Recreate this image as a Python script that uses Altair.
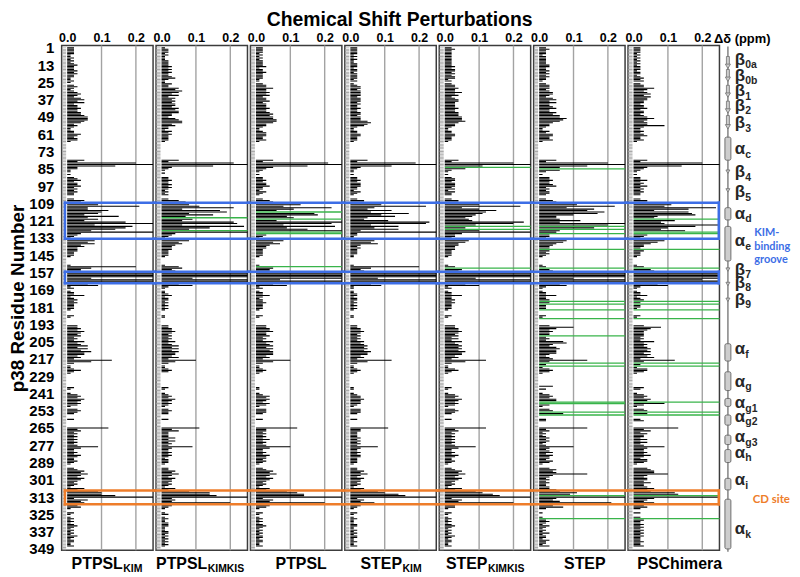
import altair as alt
import pandas as pd

# ---------------- data ----------------
RES_TICKS = list(range(1, 350, 12))
CSP_TICKS = [0.0, 0.1, 0.2]
CSP_GRID = [0.1, 0.2]

PANEL_NAME = ["PTPSL", "PTPSL", "PTPSL", "STEP", "STEP", "STEP", "PSChimera"]
PANEL_SUB = ["KIM", "KIMKIS", "", "KIM", "KIMKIS", "", ""]

# one character per residue (1..350): '.' = no value, digits = hundredths of ppm,
# letters a..z = 0.10..0.35 ppm
CSP_PTPSL_KIM = """
2222211212 1232223232 21121.2321 2343245352 3343344566 6542321122 432331.... ........53 kze3311.1. 2342334232
322..25499 l66ca95f69 5hz8jhe7z4 3212868453 332221.... .1k744zzzz 7zzk6912.1 2251232322 221...21.. ...3343543
4232534636 4755342d72 .112421... ......21.. 1343543431 .3432...2. ....c34232 3232323942 2324322321 ..23546435
432321539a aez2645434 1..21.1212 1232121213 2122112...
"""
CSP_PTPSL_KIMKIS = """
1222121112 2223232322 3421132254 6535243434 4354553324 5663422132 322221.... ........52 lzf321.1.. 2232232321
212..257e8 bl6hj8f7.9 6lm6oe8.z4 3212856433 322221.... .15634zzzz 9zzk5921.1 1231221212 121...11.. ...2233432
3232423535 3544352a42 .11232.... ......21.. 1232432321 .2322...2. ....b35222 2424232932 2323212221 ..22435324
332321428e egz343k432 1..12.1211 2221112212 1212121...
"""
CSP_PTPSL = """
2222121212 2223122322 2211.23353 3434233423 3343345455 6653321123 332231.... ........52 lzf5321.1. 2232334221
321..245dd 8mb6.hi9b. 6zm8n9fz.. 3212857433 222221.... .1.544zzzz z7zz5912.1 2242122322 221...21.. ...3344533
4232534535 4555342a52 .112321... ......11.. 1243432431 .3332...2. ....c33232 3242323a42 2324332321 ..23546435
432321439c eez254k543 1..21.1212 1232121212 2122112...
"""
CSP_STEP_KIM = """
2222212121 1222122122 2212.12332 3333233323 2232233233 3565421122 332221.... ........52 jzc3211.1. 2232333221
321..24489 m75c6h9d54 bnm6e7e3z2 2112768323 222211.... .1k634zzzz 8zzz6911.1 1221221212 121...11.. ...2233432
3232434545 4655342c52 .112321... ......11.. 1233433321 .3332...2. ....b33222 2323232832 2323322221 ..22435324
332321438a egz2437432 1..21.1211 1221121212 2112112...
"""
CSP_STEP_KIMKIS = """
2322222222 2223233232 3312.23343 3534234433 3343344455 5643321122 332221.... ........42 kzb.621.1. 2332333231
322..2446a m5afcb9867 8nk9.6.az5 3322764433 322221.... .13.54zzzz 9zzk6a12.1 2252232322 221...21.. ...3344543
4242534545 4655342c62 .113421... ......21.. 1343543431 .3432...2. ....c34232 3232323942 2324322321 ..23546435
432321539b egz254k433 1..21.1212 1232121213 2122112...
"""
CSP_STEP = """
2322212222 2233223232 3221.23332 3443245353 3453354668 7643321132 443341.... ........52 kze6.62.1. 3343345232
332..245bb m8gejha556 c6zk.g.65. 3322875433 .32321.... .12.34zzzz azzz6821.1 225223.3.2 22....21.. ...3a53433
.232784356 5553234e3. 2.13431... .....4.2.. 134355..31 .34.7...22 ....e23121 2323212a32 3424332431 ..3545e432
323223356b 9.z546l647 2..1..1.23 2132121312 2132213...
"""
CSP_PSCHIMERA = """
2222121212 1212221221 2323.23364 3453544332 3342332346 4344932232 342231.... ........42 kze4321.1. 2242324232
322..244cb 9og6ghi76. c89zia8f.. 4322975332 .32221.... .13.56zzzz zkzz7a21.1 224123.2.2 21....21.. ...3854333
3232634345 4535462c3. 2.14431... ......32.. 134354.931 .34.4...23 ....d35243 3242423943 3435324431 ..4566a434
435334645c d.z6436534 2..2..2.32 2323232323 2223223...
"""
CSP = [CSP_PTPSL_KIM, CSP_PTPSL_KIMKIS, CSP_PTPSL, CSP_STEP_KIM,
       CSP_STEP_KIMKIS, CSP_STEP, CSP_PSCHIMERA]

# residues drawn as green lines (signal lost) per panel
GREEN_PTPSL_KIM = []
GREEN_PTPSL_KIMKIS = [119, 128]
GREEN_PTPSL = [115, 120, 129, 130, 153]
GREEN_STEP_KIM = []
GREEN_STEP_KIMKIS = [84, 125, 127, 154]
GREEN_STEP = [85, 125, 127, 130, 141, 154, 177, 179, 183, 189, 201, 220, 222,
              247, 248, 254, 256, 312, 328]
GREEN_PSCHIMERA = [120, 129, 130, 141, 154, 177, 179, 183, 189, 220, 222,
                   247, 254, 256, 312, 328]
GREEN = [GREEN_PTPSL_KIM, GREEN_PTPSL_KIMKIS, GREEN_PTPSL, GREEN_STEP_KIM,
         GREEN_STEP_KIMKIS, GREEN_STEP, GREEN_PSCHIMERA]

# highlighted regions (residue ranges)
BOX_START = [108.5, 156.5, 308.5]
BOX_END = [133.5, 164.5, 318.0]
BOX_KIND = ["KIM", "KIM", "CD"]

# secondary structure of p38
BACKBONE = [0, 351]
HELIX_START = [63, 112, 125, 206.5, 226, 244.5, 256, 270, 280, 300, 314.5]
HELIX_END = [79, 120.5, 149, 218.5, 239, 250, 263, 276.5, 289, 308, 349]
STRAND_START = [7, 16, 27, 38, 48]
STRAND_END = [15, 24, 35, 46, 57]
SHORT_STRAND = [87, 100, 155, 165, 176]
SS_GREEK = ["β", "β", "β", "β", "β", "α", "β", "β", "α", "α", "β", "β", "β",
            "α", "α", "α", "α", "α", "α", "α", "α"]
SS_SUB = ["0a", "0b", "1", "2", "3", "c", "4", "5", "d", "e", "7", "8", "9",
          "f", "g", "g1", "g2", "g3", "h", "i", "k"]
SS_LABEL_RES = [10, 21, 32, 42, 54, 72, 88, 102, 117, 136, 156, 165, 176.6,
                211, 233.5, 248.6, 258, 272, 282.8, 302, 336]

TITLE = "Chemical Shift Perturbations"
Y_TITLE = "p38 Residue Number"
UNIT_LABEL = "Δδ (ppm)"
GROOVE_LABEL = "KIM-\nbinding\ngroove"
CD_LABEL = "CD site"

# ---------------- style ----------------
FONT = "Liberation Sans"
FONT2 = "Lato"
W, H = 92, 508
BLUE = "#3d6ee6"
ORANGE = "#ee7d2a"
GREEN_C = "#38b44a"
STRIPE = "#a9a9a9"
GRID_C = "#a3a3a3"
SS_FILL = "#cdcdcd"
SS_STROKE = "#6f6f6f"

XS = alt.Scale(domain=[-0.016, 0.25], nice=False, zero=False)
YS = alt.Scale(domain=[-0.6, 350], nice=False, zero=False, reverse=True)
BOXSC = alt.Scale(domain=["KIM", "CD"], range=[BLUE, ORANGE])

XAX = alt.Axis(orient="top", values=CSP_TICKS, format=".1f", title=None,
               grid=False, ticks=False, domain=False, labelFont=FONT,
               labelFontSize=12.5, labelFontWeight="bold", labelColor="black",
               labelPadding=1, labelFlush=False, labelOverlap=False)
YAX = alt.Axis(values=RES_TICKS, title=Y_TITLE, grid=False, ticks=False,
               domain=False, labelFont=FONT, labelFontSize=15,
               labelFontWeight="bold", labelColor="black", labelPadding=8,
               labelFlush=False, labelOverlap=False, titleFont=FONT,
               titleFontSize=19, titleFontWeight="bold", titleColor="black",
               titlePadding=1)

LABEL_JX = [61.5, 51.5, 51, 57.5, 48.5, 51.5, 52]


def decode(code):
    out = []
    for ch in code.replace(" ", "").replace("\n", ""):
        if ch == ".":
            out.append(None)
        elif ch.isdigit():
            out.append(max(int(ch), 0.4) / 100.0)
        else:
            out.append((ord(ch) - 87) / 100.0)
    return out[:350]


def make_panel(i):
    vals = decode(CSP[i])
    df = pd.DataFrame({"r": list(range(1, len(vals) + 1)), "v": vals}).dropna()
    df["y0"] = df["r"] - 0.38
    df["y1"] = df["r"] + 0.38
    st = pd.DataFrame({"r": list(range(1, 351))})
    st["y0"] = st["r"] - 0.3
    st["y1"] = st["r"] + 0.3
    yax = YAX if i == 0 else None

    layers = []
    layers.append(
        alt.Chart(pd.DataFrame({"g": CSP_GRID})).mark_rule(
            color=GRID_C, strokeWidth=1.4).encode(
            x=alt.X("g:Q", scale=XS, axis=XAX),
            y=alt.value(0), y2=alt.value(H)))
    layers.append(
        alt.Chart(st).mark_rect(color=STRIPE, clip=True).encode(
            x=alt.XDatum(-0.0155, type="quantitative", scale=XS, axis=XAX),
            x2=alt.datum(-0.003),
            y=alt.Y("y0:Q", scale=YS, axis=yax), y2="y1:Q"))
    layers.append(
        alt.Chart(df).mark_rect(color="black", clip=True).encode(
            x=alt.X("v:Q", scale=XS, axis=XAX), x2=alt.datum(0),
            y=alt.Y("y0:Q", scale=YS, axis=yax), y2="y1:Q"))
    if GREEN[i]:
        layers.append(
            alt.Chart(pd.DataFrame({"g": GREEN[i]})).mark_rule(
                color=GREEN_C, strokeWidth=1.3).encode(
                y=alt.Y("g:Q", scale=YS, axis=yax),
                x=alt.XDatum(0, type="quantitative", scale=XS, axis=XAX),
                x2=alt.value(W)))

    edges = pd.DataFrame({"y": BOX_START + BOX_END, "kind": BOX_KIND + BOX_KIND})
    x0 = 3.3 if i == 0 else -2
    x1 = W - 0.7 if i == 6 else W + 2
    layers.append(
        alt.Chart(edges).mark_rule(strokeWidth=2.5, strokeCap="square").encode(
            y=alt.Y("y:Q", scale=YS, axis=yax),
            x=alt.value(x0), x2=alt.value(x1),
            color=alt.Color("kind:N", scale=BOXSC, legend=None)))
    if i in (0, 6):
        boxes = pd.DataFrame({"s": BOX_START, "e": BOX_END, "kind": BOX_KIND})
        layers.append(
            alt.Chart(boxes).mark_rule(strokeWidth=2.5, strokeCap="square").encode(
                y=alt.Y("s:Q", scale=YS, axis=yax), y2="e:Q",
                x=alt.value(x0 if i == 0 else x1),
                color=alt.Color("kind:N", scale=BOXSC, legend=None)))

    lab = alt.Chart(pd.DataFrame({"t": [PANEL_NAME[i]], "s": [PANEL_SUB[i]]}))
    jx = LABEL_JX[i]
    if PANEL_SUB[i]:
        layers.append(lab.mark_text(align="right", baseline="alphabetic",
                                    font=FONT, fontSize=16, fontWeight="bold",
                                    color="black").encode(
            text="t:N", x=alt.value(jx), y=alt.value(H + 19)))
        layers.append(lab.mark_text(align="left", baseline="alphabetic",
                                    font=FONT, fontSize=10.5, fontWeight="bold",
                                    color="black").encode(
            text="s:N", x=alt.value(jx + 0.5), y=alt.value(H + 21.5)))
    else:
        layers.append(lab.mark_text(align="center", baseline="alphabetic",
                                    font=FONT, fontSize=16, fontWeight="bold",
                                    color="black").encode(
            text="t:N", x=alt.value(jx), y=alt.value(H + 19)))
    return alt.layer(*layers).properties(width=W, height=H)


def make_structure():
    ynone = dict(scale=YS, axis=None)
    bb = alt.Chart(pd.DataFrame({"s": [BACKBONE[0]], "e": [BACKBONE[1]]})).mark_rule(
        color="#8a8a8a", strokeWidth=1.6).encode(
        x=alt.value(5.5), y=alt.Y("s:Q", **ynone), y2="e:Q")
    hel = alt.Chart(pd.DataFrame({"s": HELIX_START, "e": HELIX_END})).mark_rect(
        fill=SS_FILL, stroke=SS_STROKE, strokeWidth=1, cornerRadius=1.5).encode(
        x=alt.value(2.5), x2=alt.value(8.5), y=alt.Y("s:Q", **ynone), y2="e:Q")
    sdf = pd.DataFrame({"s": STRAND_START, "e": STRAND_END})
    sdf["b"] = sdf["e"] - 2.2
    sdf["h"] = sdf["e"] - 1.2
    sbody = alt.Chart(sdf).mark_rect(fill=SS_FILL, stroke=SS_STROKE,
                                     strokeWidth=0.8).encode(
        x=alt.value(4), x2=alt.value(7), y=alt.Y("s:Q", **ynone), y2="b:Q")
    shead = alt.Chart(sdf).mark_point(shape="triangle-down", filled=True, size=26,
                                      fill=SS_FILL, stroke=SS_STROKE,
                                      strokeWidth=0.8, opacity=1).encode(
        x=alt.value(5.5), y=alt.Y("h:Q", **ynone))
    short = alt.Chart(pd.DataFrame({"s": SHORT_STRAND})).mark_point(
        shape="triangle-down", filled=True, size=16, fill=SS_FILL,
        stroke=SS_STROKE, strokeWidth=0.8, opacity=1).encode(
        x=alt.value(5.5), y=alt.Y("s:Q", **ynone))
    ldf = pd.DataFrame({"g": SS_GREEK, "sub": SS_SUB, "ly": SS_LABEL_RES})
    main = alt.Chart(ldf).mark_text(align="left", baseline="middle", font=FONT,
                                    fontSize=17, fontWeight="bold",
                                    color="#262626", dy=-1).encode(
        x=alt.value(12.5), y=alt.Y("ly:Q", **ynone), text="g:N")
    sub = alt.Chart(ldf).mark_text(align="left", baseline="middle", font=FONT,
                                   fontSize=10.5, fontWeight="bold",
                                   color="#262626", dy=4.5).encode(
        x=alt.value(23), y=alt.Y("ly:Q", **ynone), text="sub:N")
    tdf = pd.DataFrame({"u": [UNIT_LABEL], "g": [GROOVE_LABEL], "c": [CD_LABEL]})
    unit = alt.Chart(tdf).mark_text(align="left", baseline="middle", font=FONT,
                                    fontSize=13, fontWeight="bold",
                                    color="black").encode(
        x=alt.value(-8.5), y=alt.value(-6.5), text="u:N")
    groove = alt.Chart(tdf).mark_text(align="left", baseline="middle", font=FONT2,
                                      fontSize=11, fontWeight="bold", color=BLUE,
                                      lineBreak="\n", lineHeight=13.5).encode(
        x=alt.value(32), y=alt.value(189), text="g:N")
    cd = alt.Chart(tdf).mark_text(align="left", baseline="middle", font=FONT2,
                                  fontSize=11.5, fontWeight="bold",
                                  color=ORANGE).encode(
        x=alt.value(30.5), y=alt.value(457), text="c:N")
    return alt.layer(bb, hel, sbody, shead, short, main, sub, unit, groove, cd).properties(
        width=60, height=H, view=alt.ViewBackground(stroke="transparent"))


panels = [make_panel(i) for i in range(7)] + [make_structure()]

chart = alt.hconcat(*panels, spacing=3, bounds="flush").properties(
    title=alt.TitleParams(TITLE, font=FONT, fontSize=19.5, fontWeight="bold",
                          color="black", anchor="middle", offset=0),
    padding={"left": 0, "top": 0, "right": 0, "bottom": 0},
).configure_view(stroke="#3c3c3c", strokeWidth=1.5)

chart.save("out.html", embed_options={"renderer": "svg", "actions": False})
